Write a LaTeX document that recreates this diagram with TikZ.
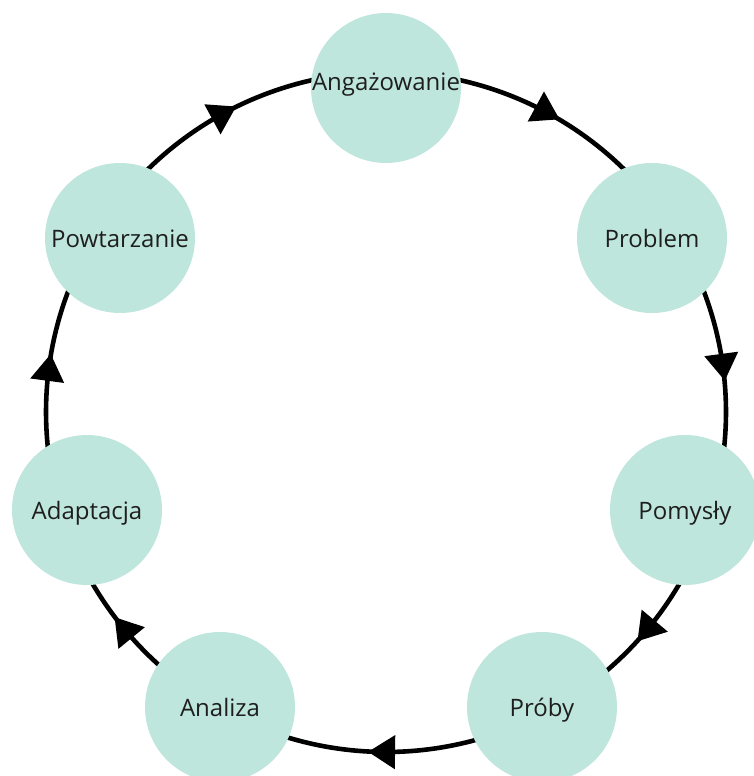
\documentclass[tikz,border=0pt]{standalone}
\usepackage{fontspec}
\setmainfont{Open Sans}
\usetikzlibrary{arrows.meta,decorations.markings}
\definecolor{stagefill}{RGB}{190,230,220}
\definecolor{txt}{RGB}{30,30,30}
\begin{document}
\begin{tikzpicture}[x=1pt,y=1pt,
  stage/.style={circle,fill=stagefill,minimum size=150pt,inner sep=0pt,
    font=\fontsize{24}{28}\selectfont,text=txt,text height=18pt,text depth=0pt},
  conn/.style={line width=4.6pt,draw=black,
    decoration={markings,mark=at position 0.5 with {\arrow[xshift=13.5pt]{Triangle[length=27pt,width=33pt]}}},
    postaction={decorate}}]
\useasboundingbox (0,0) rectangle (753,-776);
\coordinate (O) at (386,-412);
\coordinate (cA)  at ([shift={(90:340)}]O);
\coordinate (cP)  at ([shift={(33.2:340)}]O);
\coordinate (cPo) at ([shift={(-18.1:340)}]O);
\coordinate (cPr) at ([shift={(-62.1:340)}]O);
\coordinate (cAn) at ([shift={(-119.4:340)}]O);
\coordinate (cAd) at ([shift={(-161.9:340)}]O);
\coordinate (cPw) at ([shift={(146.8:340)}]O);
% connectors
\draw[conn] (cA)  arc[start angle=90,    end angle=33.2,   radius=340];
\draw[conn] (cP)  arc[start angle=33.2,  end angle=-18.1,  radius=340];
\draw[conn] (cPo) arc[start angle=-18.1, end angle=-62.1,  radius=340];
\draw[conn] (cPr) arc[start angle=-62.1, end angle=-119.4, radius=340];
\draw[conn] (cAn) arc[start angle=-119.4,end angle=-161.9, radius=340];
\draw[conn] (cAd) arc[start angle=-161.9,end angle=-213.2, radius=340];
\draw[conn] (cPw) arc[start angle=146.8, end angle=90,     radius=340];
% stages
\node[stage] (A)  at (386,-88)  {\raisebox{7pt}{\makebox[0pt]{Angażowanie}}};
\node[stage] (P)  at (652,-238) {\makebox[0pt]{Problem}};
\node[stage] (Po) at (685,-510) {\makebox[0pt]{Pomysły}};
\node[stage] (Pr) at (542,-707) {\makebox[0pt]{Próby}};
\node[stage] (An) at (220,-707) {\makebox[0pt]{Analiza}};
\node[stage] (Ad) at (87,-510)  {\makebox[0pt]{Adaptacja}};
\node[stage] (Pw) at (120,-238) {\makebox[0pt]{Powtarzanie}};
\end{tikzpicture}
\end{document}
